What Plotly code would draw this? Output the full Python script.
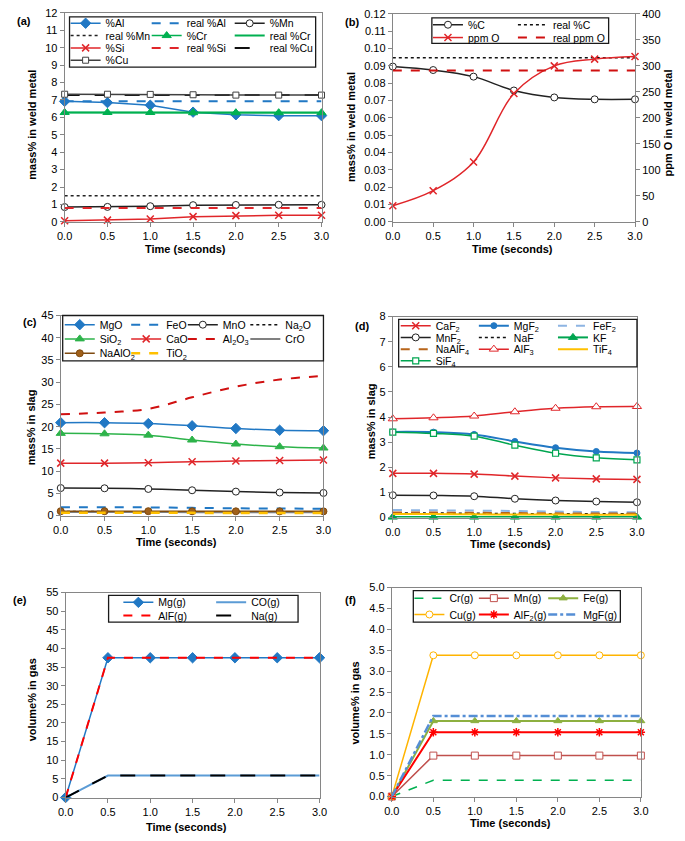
import plotly.graph_objects as go

W, H = 685, 841
FONT = "Liberation Sans, Arial, sans-serif"

# ---------------- data ----------------
t = [0.0, 0.5, 1.0, 1.5, 2.0, 2.5, 3.0]
x_ticks = [0.0, 0.5, 1.0, 1.5, 2.0, 2.5, 3.0]

# (a) weld metal
al = [6.92, 6.85, 6.7, 6.3, 6.15, 6.1, 6.1]
real_al = 6.92
mn = [0.85, 0.86, 0.9, 0.96, 0.97, 0.98, 0.98]
real_mn = 1.5
cr = [6.28, 6.28, 6.28, 6.27, 6.27, 6.27, 6.27]
real_cr = 6.28
si = [0.07, 0.1, 0.17, 0.3, 0.36, 0.38, 0.38]
real_si = 0.8
real_cu = 7.28
cu = [7.33, 7.33, 7.32, 7.3, 7.28, 7.28, 7.28]

# (b) carbon / oxygen
c = [0.0896, 0.0876, 0.0838, 0.0758, 0.0718, 0.0707, 0.0707]
real_c = 0.0947
o_ppm = [31, 60, 115, 247, 300, 313, 318]
real_o = 291

# (c) oxides in slag
mgo = [20.9, 20.9, 20.7, 20.2, 19.6, 19.2, 19.1]
feo = [1.9, 1.9, 1.85, 1.75, 1.65, 1.6, 1.55]
mno = [6.2, 6.15, 6.0, 5.7, 5.4, 5.2, 5.1]
na2o = [0.9, 0.9, 0.88, 0.85, 0.82, 0.8, 0.8]
sio2 = [18.5, 18.4, 18.1, 17.0, 16.1, 15.5, 15.2]
cao = [11.8, 11.8, 11.9, 12.1, 12.3, 12.4, 12.5]
al2o3 = [22.8, 23.2, 24.0, 26.6, 29.0, 30.6, 31.4]
cro = [0.8, 0.8, 0.8, 0.78, 0.76, 0.75, 0.75]
naalo2 = [1.0, 1.0, 1.0, 0.98, 0.97, 0.96, 0.96]
tio2 = [0.65, 0.65, 0.64, 0.62, 0.6, 0.6, 0.6]

# (d) fluorides in slag
caf2 = [1.76, 1.76, 1.73, 1.65, 1.58, 1.54, 1.52]
mgf2 = [3.41, 3.40, 3.31, 3.03, 2.78, 2.63, 2.57]
fef2 = [0.3, 0.29, 0.28, 0.26, 0.24, 0.22, 0.21]
mnf2 = [0.89, 0.88, 0.85, 0.75, 0.68, 0.64, 0.61]
naf = [0.18, 0.18, 0.17, 0.16, 0.15, 0.15, 0.15]
kf = [0.02, 0.02, 0.02, 0.02, 0.02, 0.02, 0.02]
naalf4 = [0.2, 0.2, 0.19, 0.18, 0.17, 0.16, 0.16]
alf3 = [3.93, 3.97, 4.04, 4.21, 4.35, 4.41, 4.42]
tif4 = [0.14, 0.14, 0.13, 0.12, 0.12, 0.11, 0.11]
sif4 = [3.40, 3.35, 3.24, 2.88, 2.56, 2.38, 2.30]

# (e) gas, major
mg_g = [0, 37.5, 37.5, 37.5, 37.5, 37.5, 37.5]
co_g = [0, 5.9, 5.9, 5.9, 5.9, 5.9, 5.9]
alf_g = [0, 37.5, 37.5, 37.5, 37.5, 37.5, 37.5]
na_g = [0, 5.9, 5.9, 5.9, 5.9, 5.9, 5.9]

# (f) gas, minor
cr_g = [0, 0.39, 0.39, 0.39, 0.39, 0.39, 0.39]
mn_g = [0, 0.98, 0.98, 0.98, 0.98, 0.98, 0.98]
fe_g = [0, 1.81, 1.81, 1.81, 1.81, 1.81, 1.81]
cu_g = [0, 3.38, 3.38, 3.38, 3.38, 3.38, 3.38]
alf2_g = [0, 1.54, 1.54, 1.54, 1.54, 1.54, 1.54]
mgf_g = [0, 1.93, 1.93, 1.93, 1.93, 1.93, 1.93]


def const(v):
    return [v for _ in t]


# ---------------- helpers ----------------
def px(x):
    return x / W


def py(y):
    return 1 - y / H


fig = go.Figure()
legend_layout = {}
legend_count = [0]


def add(xa, ya, y, name, color, leg, dash="solid", width=1.5, symbol=None,
        msize=7, mfill=None, shape="linear", mline=1.0):
    """leg = (origin_x_px, center_y_px) of this entry's own legend."""
    legend_count[0] += 1
    n = legend_count[0]
    lid = "legend" if n == 1 else f"legend{n}"
    ox, cy = leg
    legend_layout[lid] = dict(
        x=px(ox), y=py(cy), xanchor="left", yanchor="middle",
        orientation="h", bgcolor="rgba(0,0,0,0)", borderwidth=0,
        itemwidth=30, font=dict(size=10.5, color="black", family=FONT),
        itemclick=False, itemdoubleclick=False)
    mode = "lines+markers" if symbol else "lines"
    kw = {}
    if symbol:
        kw["marker"] = dict(symbol=symbol, size=msize,
                            color=mfill if mfill else color,
                            line=dict(color=color, width=mline))
    fig.add_trace(go.Scatter(
        x=t, y=y, name=name, mode=mode, xaxis=xa, yaxis=ya,
        line=dict(color=color, width=width, dash=dash, shape=shape,
                  smoothing=1.0),
        legend=lid, showlegend=True, cliponaxis=False, **kw))


BLUE = "#2178C4"
RED = "#E0262A"
GREEN = "#00B050"
GRAY = "#404040"

# legend grid positions (pixels): entry origin x (text starts 40 px later), row centre y
A_X = [59, 142, 227]
A_Y = [17.5, 30, 42.5, 55]
B_X = [430, 517]
B_Y = [19, 32]
C_X = [53, 121, 179, 243]
C_Y = [323.3, 337.7, 352.3]
D_X = [397, 477, 558]
D_Y = [324.3, 336.2, 348.1, 360]
E_X = [113, 208]
E_Y = [605, 618.3]
F_X = [411, 477, 548]
F_Y = [600.7, 617.3]

# ---------------- (a) ----------------
add("x", "y", al, "%Al", BLUE, (A_X[0], A_Y[0]), symbol="diamond", msize=8)
add("x", "y", const(real_al), "real %Al", BLUE, (A_X[1], A_Y[0]), dash="dash", width=2)
add("x", "y", mn, "%Mn", "#222222", (A_X[2], A_Y[0]), symbol="circle", mfill="white", msize=7)
add("x", "y", const(real_mn), "real %Mn", "#222222", (A_X[0], A_Y[1]), dash="dot", width=1.5)
add("x", "y", cr, "%Cr", GREEN, (A_X[1], A_Y[1]), symbol="triangle-up", msize=8)
add("x", "y", const(real_cr), "real %Cr", GREEN, (A_X[2], A_Y[1]), width=2)
add("x", "y", si, "%Si", RED, (A_X[0], A_Y[2]), symbol="x-thin", msize=7, mline=1.5)
add("x", "y", const(real_si), "real %Si", RED, (A_X[1], A_Y[2]), dash="dash", width=2)
add("x", "y", const(real_cu), "real %Cu", "#111111", (A_X[2], A_Y[2]), dash="longdash", width=2)
add("x", "y", cu, "%Cu", GRAY, (A_X[0], A_Y[3]), symbol="square", mfill="white", msize=6)

# ---------------- (b) ----------------
add("x2", "y2", c, "%C", "#222222", (B_X[0], B_Y[0]), symbol="circle", mfill="white",
    msize=7, shape="spline")
add("x2", "y2", const(real_c), "real %C", "#111111", (B_X[1], B_Y[0]), dash="dot", width=1.5)
add("x2", "y7", o_ppm, "ppm O", RED, (B_X[0], B_Y[1]), symbol="x-thin", msize=7, mline=1.5,
    shape="spline")
add("x2", "y7", const(real_o), "real ppm O", "#D01010", (B_X[1], B_Y[1]), dash="dash", width=2)

# ---------------- (c) ----------------
add("x3", "y3", mgo, "MgO", BLUE, (C_X[0], C_Y[0]), symbol="diamond", msize=8, shape="spline")
add("x3", "y3", feo, "FeO", BLUE, (C_X[1], C_Y[0]), dash="dash", width=2, shape="spline")
add("x3", "y3", mno, "MnO", "#222222", (C_X[2], C_Y[0]), symbol="circle", mfill="white",
    msize=7, shape="spline")
add("x3", "y3", na2o, "Na<sub>2</sub>O", "#111111", (C_X[3], C_Y[0]), dash="dot", shape="spline")
add("x3", "y3", sio2, "SiO<sub>2</sub>", "#2DB34A", (C_X[0], C_Y[1]), symbol="triangle-up",
    msize=8, shape="spline")
add("x3", "y3", cao, "CaO", RED, (C_X[1], C_Y[1]), symbol="x-thin", msize=7, mline=1.5,
    shape="spline")
add("x3", "y3", al2o3, "Al<sub>2</sub>O<sub>3</sub>", "#D01010", (C_X[2], C_Y[1]), dash="dash",
    width=2, shape="spline")
add("x3", "y3", cro, "CrO", "#808080", (C_X[3], C_Y[1]), width=2, shape="spline")
add("x3", "y3", naalo2, "NaAlO<sub>2</sub>", "#7F4A10", (C_X[0], C_Y[2]), symbol="circle",
    mfill="#A0601A", msize=7, shape="spline")
add("x3", "y3", tio2, "TiO<sub>2</sub>", "#FFC000", (C_X[1], C_Y[2]), dash="dash", width=2.5,
    shape="spline")

# ---------------- (d) ----------------
add("x4", "y4", caf2, "CaF<sub>2</sub>", RED, (D_X[0], D_Y[0]), symbol="x-thin", msize=7,
    mline=1.5, shape="spline")
add("x4", "y4", mgf2, "MgF<sub>2</sub>", BLUE, (D_X[1], D_Y[0]), symbol="circle", msize=6,
    width=2, shape="spline")
add("x4", "y4", fef2, "FeF<sub>2</sub>", "#8DB4E2", (D_X[2], D_Y[0]), dash="dash", width=2,
    shape="spline")
add("x4", "y4", mnf2, "MnF<sub>2</sub>", "#222222", (D_X[0], D_Y[1]), symbol="circle",
    mfill="white", msize=7, shape="spline")
add("x4", "y4", naf, "NaF", "#111111", (D_X[1], D_Y[1]), dash="dot", shape="spline")
add("x4", "y4", kf, "KF", "#00A550", (D_X[2], D_Y[1]), symbol="triangle-up", msize=8,
    width=2, shape="spline")
add("x4", "y4", naalf4, "NaAlF<sub>4</sub>", "#B8651B", (D_X[0], D_Y[2]), dash="dash", width=2,
    shape="spline")
add("x4", "y4", alf3, "AlF<sub>3</sub>", RED, (D_X[1], D_Y[2]), symbol="triangle-up",
    mfill="white", msize=8, shape="spline")
add("x4", "y4", tif4, "TiF<sub>4</sub>", "#FFC000", (D_X[2], D_Y[2]), width=2, shape="spline")
add("x4", "y4", sif4, "SiF<sub>4</sub>", "#00A550", (D_X[0], D_Y[3]), symbol="square",
    mfill="white", msize=6, mline=1.2, shape="spline")

# ---------------- (e) ----------------
add("x5", "y5", mg_g, "Mg(g)", BLUE, (E_X[0], E_Y[0]), symbol="diamond", msize=8)
add("x5", "y5", co_g, "CO(g)", "#5B9BD5", (E_X[1], E_Y[0]), width=2)
add("x5", "y5", alf_g, "AlF(g)", "#FF0000", (E_X[0], E_Y[1]), dash="dash", width=2)
add("x5", "y5", na_g, "Na(g)", "#000000", (E_X[1], E_Y[1]), dash="longdash", width=2)

# ---------------- (f) ----------------
add("x6", "y6", cr_g, "Cr(g)", "#00B050", (F_X[0], F_Y[0]), dash="dash", width=1.5)
add("x6", "y6", mn_g, "Mn(g)", "#C0504D", (F_X[1], F_Y[0]), symbol="square", mfill="white",
    msize=7)
add("x6", "y6", fe_g, "Fe(g)", "#8DB040", (F_X[2], F_Y[0]), symbol="triangle-up", msize=7,
    width=2)
add("x6", "y6", cu_g, "Cu(g)", "#FFB400", (F_X[0], F_Y[1]), symbol="circle", mfill="white",
    msize=7)
add("x6", "y6", alf2_g, "AlF<sub>2</sub>(g)", "#FF0000", (F_X[1], F_Y[1]), symbol="asterisk",
    msize=7, mline=1.5, width=2)
add("x6", "y6", mgf_g, "MgF(g)", "#558ED5", (F_X[2], F_Y[1]), dash="dashdot", width=2.5)

# ---------------- axes ----------------
AX = dict(showline=True, linecolor="#868686", linewidth=1, mirror=True,
          ticks="outside", ticklen=4, tickcolor="#868686", showgrid=False,
          zeroline=False, tickfont=dict(size=11, color="black", family=FONT))

panels = {
    1: (58, 321, 7, 219),
    2: (394, 642, 8, 219),
    3: (54, 323, 314, 517),
    4: (394, 644, 315, 519),
    5: (59, 319, 595, 803),
    6: (393, 648, 590, 802),
}
yranges = {1: ([0, 12], 1, None), 2: ([0, 0.12], 0.01, ".2f"), 3: ([0, 45], 5, None),
           4: ([0, 8], 1, None), 5: ([0, 55], 5, None), 6: ([0, 5], 0.5, ".1f")}

layout = {}
for i, (x0, x1, yt, yb) in panels.items():
    xn = "xaxis" if i == 1 else f"xaxis{i}"
    yn = "yaxis" if i == 1 else f"yaxis{i}"
    layout[xn] = dict(AX, domain=[px(x0), px(x1)], range=[0, 3],
                      tickvals=x_ticks, tickformat=".1f",
                      anchor="y" if i == 1 else f"y{i}")
    rng, dt, fmt = yranges[i]
    yd = dict(AX, domain=[py(yb), py(yt)], range=rng, dtick=dt, tick0=0,
              anchor="x" if i == 1 else f"x{i}")
    if fmt:
        yd["tickformat"] = fmt
    layout[yn] = yd

layout["yaxis7"] = dict(AX, domain=[py(219), py(8)], range=[0, 400], dtick=50,
                        tick0=0, overlaying="y2", side="right", anchor="x2",
                        mirror=False)
layout.update(legend_layout)

# legend frames
boxes = [(63, 315, 11, 62), (434, 615, 12, 38), (56, 323, 314, 360),
         (400, 644, 318, 366), (103, 297, 598, 625), (415, 627, 593, 625)]
shapes = []
for (x0, x1, y0, y1) in boxes:
    shapes.append(dict(type="rect", xref="paper", yref="paper",
                       x0=px(x0), x1=px(x1), y0=py(y1), y1=py(y0),
                       line=dict(color="#1a1a1a", width=1.3),
                       fillcolor="white", layer="above"))

# ---------------- annotations ----------------
ann = []


def text(x, y, s, angle=0, xanchor="center", size=11):
    ann.append(dict(x=px(x), y=py(y), xref="paper", yref="paper", text=s,
                    showarrow=False, textangle=angle, xanchor=xanchor,
                    yanchor="middle", font=dict(size=size, color="black",
                                                family=FONT)))


for lab, (x, y) in {"(a)": (7, 15), "(b)": (343, 16), "(c)": (13, 321),
                    "(d)": (353, 325), "(e)": (3, 603), "(f)": (343, 603)}.items():
    text(x, y, f"<b>{lab}</b>", xanchor="left")

XT = "<b>Time (seconds)</b>"
for (x, y) in [(182, 247), (517, 247), (173, 544), (515, 546), (183, 833), (515, 829)]:
    text(x, y, XT)

text(25, 120, "<b>mass% in weld metal</b>", angle=-90)
text(351, 123, "<b>mass% in weld metal</b>", angle=-90)
text(676, 119, "<b>ppm O in weld metal</b>", angle=-90)
text(23, 427, "<b>mass% in slag</b>", angle=-90)
text(372, 421, "<b>mass% in slag</b>", angle=-90)
text(25, 704, "<b>volume% in gas</b>", angle=-90)
text(355, 707, "<b>volume% in gas</b>", angle=-90)

fig.update_layout(
    width=W, height=H, margin=dict(l=0, r=0, t=0, b=0),
    paper_bgcolor="white", plot_bgcolor="white",
    font=dict(family=FONT, size=11, color="black"),
    shapes=shapes, annotations=ann, showlegend=True,
    **layout,
)

fig.write_html("out.html", config={"displayModeBar": False},
               post_script="document.body.style.margin='0';")
